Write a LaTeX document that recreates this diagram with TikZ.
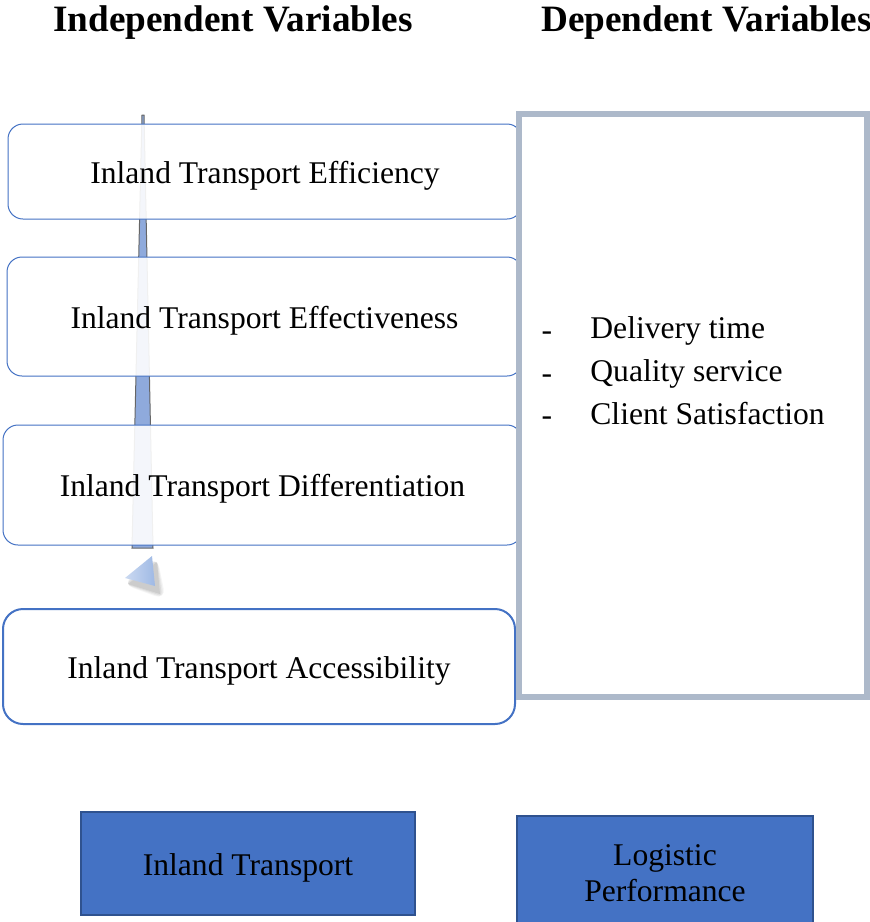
\documentclass[tikz,border=0pt]{standalone}
\usepackage{fontspec}
\setmainfont{Liberation Serif}
\usetikzlibrary{calc}
\begin{document}
\begin{tikzpicture}[x=0.5pt,y=-0.5pt,
  txt/.style={font=\fontsize{15.8}{19}\selectfont},
  ttl/.style={font=\bfseries\fontsize{18.6}{22}\selectfont, anchor=base, inner sep=0pt},
  low/.style={text height=15pt, text depth=3.5pt},
  ivbox/.style={draw=blue1, line width=0.5pt, rounded corners=7.5pt, fill=white, fill opacity=0.9, text opacity=1, txt, low},
  solidbox/.style={draw=blue2, line width=1pt, fill=blue1, txt, align=center}
]
\definecolor{blue1}{HTML}{4472C4}
\definecolor{blue2}{HTML}{2F528F}
\definecolor{grayb}{HTML}{ADB9CA}
\definecolor{arrowfill}{HTML}{8FAADC}
\definecolor{headfill}{HTML}{A9C1E8}
\useasboundingbox (0,0) rectangle (870,922);
\clip (0,0) rectangle (870,922);

% titles
\node[ttl] (t1) at (233,31) {Independent Variables};
\node[ttl, anchor=base west] (t2) at (541,31) {Dependent Variables};

% arrow body (behind boxes)
\coordinate (atl) at (142,115);
\coordinate (atr) at (144,115);
\coordinate (abr) at (153,548);
\coordinate (abl) at (132,548);
\draw[draw=black!60, line width=0.5pt, fill=arrowfill] (atl) -- (atr) -- (abr) -- (abl) -- cycle;

% independent variable boxes
\node[ivbox, minimum width=257pt, minimum height=47.5pt] (b1) at (265,171.5) {Inland Transport Efficiency};
\node[ivbox, minimum width=257.5pt, minimum height=59.5pt] (b2) at (264.5,316.5) {Inland Transport Effectiveness};
\node[ivbox, minimum width=259.5pt, minimum height=60pt] (b3) at (262.5,485) {Inland Transport Differentiation};
\node[ivbox, line width=1pt, rounded corners=10pt, fill opacity=1, minimum width=256pt, minimum height=57.5pt] (b4) at (259,666.5) {Inland Transport Accessibility};

% arrow head with soft shadow
\coordinate (h1) at (125,578);
\coordinate (h2) at (152,556);
\coordinate (h3) at (155,586);
\foreach \s/\o in {6/0.04,4/0.05,2/0.06,0/0.07}{
  \fill[black, opacity=\o, rounded corners=\s] ($(h1)+(3-\s,6)$) -- ($(h2)+(5,6-\s)$) -- ($(h3)+(5+\s,8+\s)$) -- cycle;
}
\shade[left color=headfill!60!white, right color=headfill!90!blue1] (h1) -- (h2) -- (h3) -- cycle;

% dependent variable box
\node[draw=grayb, line width=3pt, fill=white, minimum width=174pt, minimum height=291.5pt] (dv) at (693,405.5) {};
\node[txt, anchor=center] (d1) at (547,336) {-};
\node[txt, anchor=center] (d2) at (547,379) {-};
\node[txt, anchor=center] (d3) at (547,421) {-};
\node[txt, anchor=west, inner sep=0pt] (l1) at (590,331) {Delivery time};
\node[txt, anchor=west, inner sep=0pt] (l2) at (590,374) {Quality service};
\node[txt, anchor=west, inner sep=0pt] (l3) at (590,414) {Client Satisfaction};

% bottom boxes
\node[solidbox, low, minimum width=167pt, minimum height=51.5pt] (it) at (248,863.5) {Inland Transport};
\node[solidbox, minimum width=148pt, minimum height=57pt] (lp) at (665,873) {Logistic\\[-1pt]Performance};
\end{tikzpicture}
\end{document}
